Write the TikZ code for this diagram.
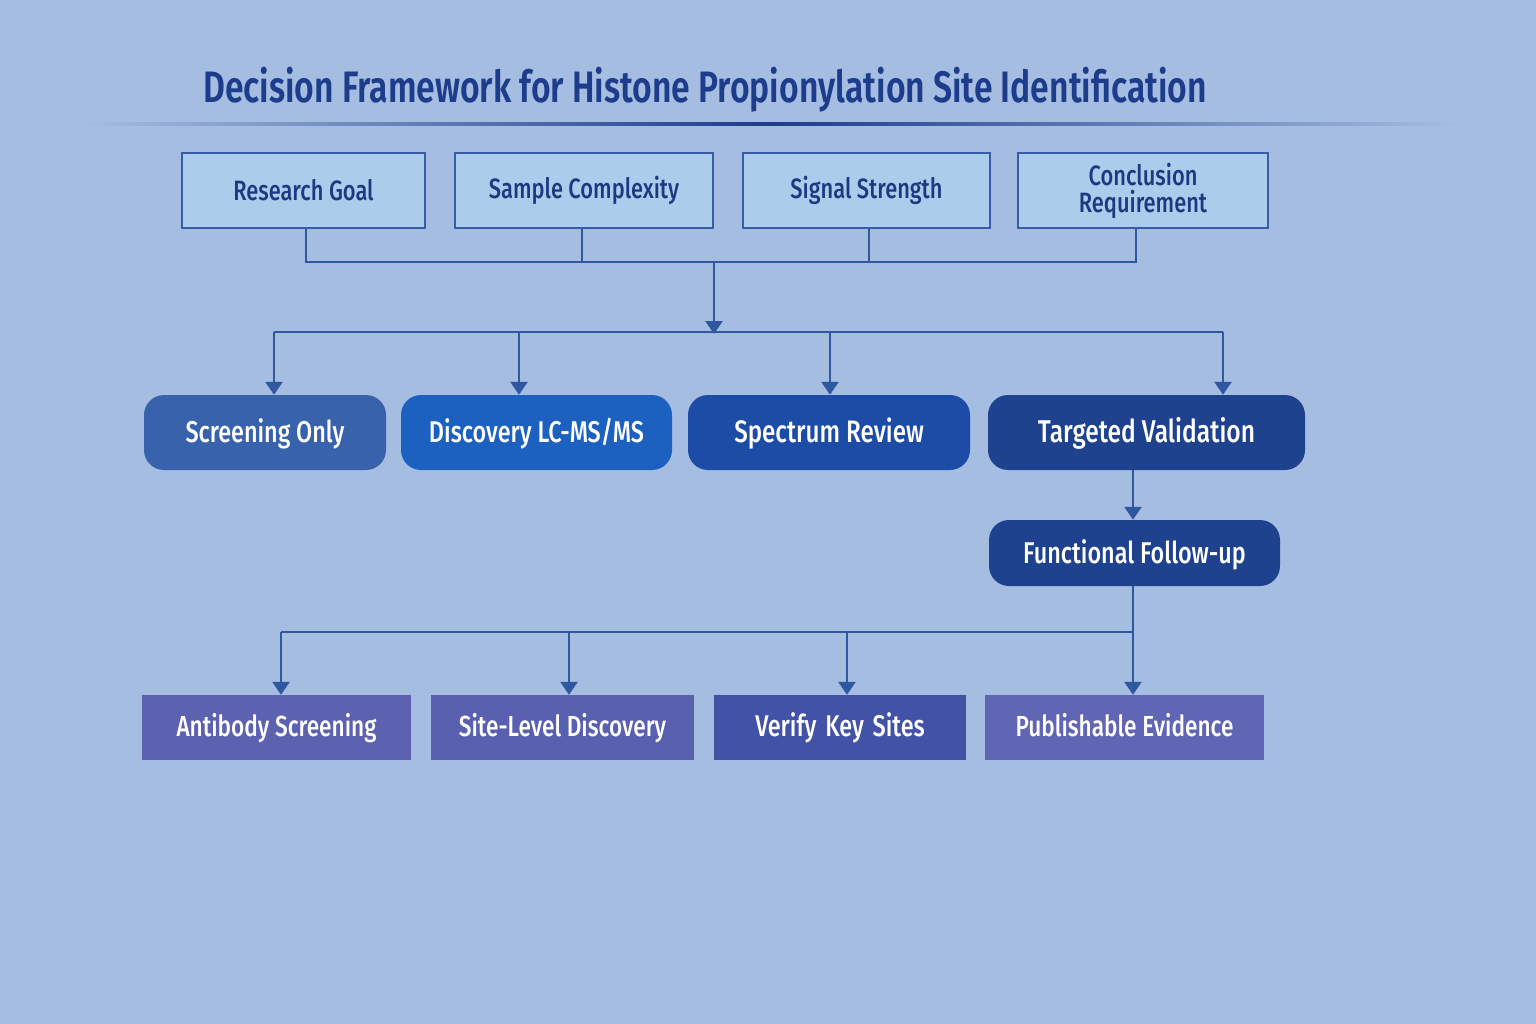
\documentclass[tikz,border=0pt]{standalone}
\usepackage{fontspec}
\setmainfont{Fira Sans}[FakeStretch=0.78]
\newfontfamily\medfont{Fira Sans Medium}[FakeStretch=0.78]
\newfontfamily\titlefont{Fira Sans SemiBold}[FakeStretch=0.765]
\usetikzlibrary{arrows.meta}
\definecolor{bgc}{RGB}{164,189,224}
\definecolor{topfill}{RGB}{171,205,235}
\definecolor{topborder}{RGB}{58,92,166}
\definecolor{toptext}{RGB}{28,58,130}
\definecolor{titlec}{RGB}{30,60,140}
\definecolor{connc}{RGB}{48,88,160}
\definecolor{scf}{RGB}{56,98,172}
\definecolor{discf}{RGB}{28,96,192}
\definecolor{specf}{RGB}{28,76,166}
\definecolor{targf}{RGB}{30,66,142}
\definecolor{abf}{RGB}{92,97,176}
\definecolor{sitef}{RGB}{90,96,176}
\definecolor{verf}{RGB}{66,82,166}
\definecolor{pubf}{RGB}{96,101,180}
\tikzset{
  topbox/.style={draw=topborder, line width=1.6pt, fill=topfill, text=toptext,
    font=\medfont\fontsize{28}{27}\selectfont, align=center, minimum height=75pt, inner sep=0pt},
  midbox/.style={rounded corners=20pt, text=white, minimum height=75pt,
    font=\medfont\fontsize{30}{30}\selectfont, inner sep=0pt, text height=20pt, text depth=1pt},
  botbox/.style={text=white, minimum height=65pt, inner sep=0pt,
    font=\medfont\fontsize{29}{29}\selectfont, text height=18pt, text depth=1pt},
  conn/.style={draw=connc, line width=2.8pt},
  arr/.style={conn, -{Triangle[length=13pt,width=17pt]}},
}
\begin{document}
\begin{tikzpicture}[x=1pt,y=-1pt]
\useasboundingbox (0,0) rectangle (1536,1024);
\fill[bgc] (0,0) rectangle (1536,1024);
% title
\node[text=titlec, font=\titlefont\fontsize{44}{44}\selectfont] (title) at (705,90)
  {Decision Framework for Histone Propionylation Site Identification};
\shade[left color=bgc, right color=bgc, middle color=titlec] (80,123) rectangle (1460,126);
% top row
\node[topbox, minimum width=243pt] (rg) at (303.5,190.5) {Research Goal};
\node[topbox, minimum width=258pt] (sc) at (584,190.5) {Sample Complexity};
\node[topbox, minimum width=247pt] (ss) at (866.5,190.5) {Signal Strength};
\node[topbox, minimum width=250pt] (cr) at (1143,190.5) {Conclusion\\Requirement};
% middle row
\node[midbox, fill=scf, minimum width=242pt] (so) at (265,432.5) {Screening Only};
\node[midbox, fill=discf, minimum width=271pt] (dl) at (536.5,432.5) {Discovery LC-MS/MS};
\node[midbox, fill=specf, minimum width=282pt, font=\medfont\fontsize{31}{31}\selectfont] (sr) at (829,432.5) {Spectrum Review};
\node[midbox, fill=targf, minimum width=317pt, font=\medfont\fontsize{31.5}{31.5}\selectfont] (tv) at (1146.5,432.5) {Targeted Validation};
\node[midbox, fill=targf, minimum width=291pt, minimum height=66pt, text height=21pt] (ff) at (1134.5,553) {Functional Follow-up};
% bottom row
\node[botbox, fill=abf, minimum width=269pt] (ab) at (276.5,727.5) {Antibody Screening};
\node[botbox, fill=sitef, minimum width=263pt] (sl) at (562.5,727.5) {Site-Level Discovery};
\node[botbox, fill=verf, minimum width=252pt, font=\medfont\fontsize{30}{30}\selectfont] (vk) at (840,727.5) {Verify\hspace{3pt} Key\hspace{3pt} Sites};
\node[botbox, fill=pubf, minimum width=279pt] (pe) at (1124.5,727.5) {Publishable Evidence};
% connectors top
\coordinate (j1) at (714,262);
\coordinate (j2) at (714,332);
\draw[conn] (rg.south -| 306,0) |- (j1);
\draw[conn] (sc.south -| 582,0) -- (582,262);
\draw[conn] (ss.south -| 869,0) -- (869,262);
\draw[conn] (cr.south -| 1136,0) |- (j1);
\draw[arr] (j1) -- ([yshift=-2pt]j2);
\coordinate (b1) at (274,332);
\coordinate (b2) at (519,332);
\coordinate (b3) at (830,332);
\coordinate (b4) at (1223,332);
\draw[conn] (b1) -- (b4);
\draw[arr] (b1) -- (b1 |- so.north);
\draw[arr] (b2) -- (b2 |- dl.north);
\draw[arr] (b3) -- (b3 |- sr.north);
\draw[arr] (b4) -- (b4 |- tv.north);
\draw[arr] (tv.south -| 1133,0) -- (ff.north -| 1133,0);
% bottom connectors
\coordinate (k0) at (1133,632);
\coordinate (k1) at (281,632);
\coordinate (k2) at (569,632);
\coordinate (k3) at (847,632);
\draw[arr] (ff.south -| 1133,0) -- (pe.north -| 1133,0);
\draw[conn] (k1) -- (k0);
\draw[arr] (k1) -- (k1 |- ab.north);
\draw[arr] (k2) -- (k2 |- sl.north);
\draw[arr] (k3) -- (k3 |- vk.north);
\end{tikzpicture}
\end{document}
